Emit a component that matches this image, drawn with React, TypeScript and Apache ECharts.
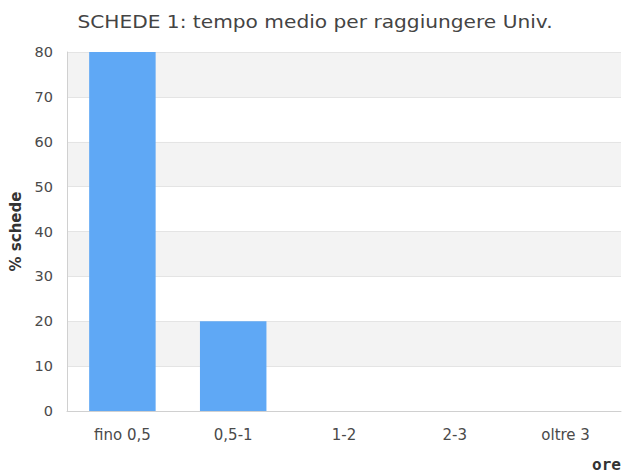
import React, { useEffect, useRef } from "react";
import * as echarts from "echarts";

const categories = ["fino 0,5", "0,5-1", "1-2", "2-3", "oltre 3"];
const values = [80, 20, 0, 0, 0];
const titleText = "SCHEDE 1: tempo medio per raggiungere Univ.";
const yName = "% schede";
const xName = "ore";

export default function App() {
  const ref = useRef<HTMLDivElement>(null);
  useEffect(() => {
    document.body.style.margin = "0";
    const chart = echarts.init(ref.current!, null, { renderer: "svg" });
    chart.setOption({
      animation: false,
      backgroundColor: "#ffffff",
      grid: { left: 67, right: 1, top: 52, bottom: 61 },
      xAxis: {
        type: "category",
        data: categories,
        axisLine: { show: true, lineStyle: { color: "#d0d0d0" } },
        axisTick: { show: false },
        axisLabel: { color: "#4a4a4a", fontSize: 15, fontFamily: "DejaVu Sans", margin: 16 },
      },
      yAxis: {
        type: "value",
        min: 0,
        max: 80,
        interval: 10,
        name: yName,
        nameLocation: "middle",
        nameGap: 43,
        nameTextStyle: { fontWeight: "bold", fontSize: 15, color: "#333", fontFamily: "DejaVu Sans" },
        axisLine: { show: true, lineStyle: { color: "#d0d0d0" } },
        axisTick: { show: false },
        axisLabel: { color: "#4a4a4a", fontSize: 14.5, fontFamily: "DejaVu Sans", margin: 14 },
        splitLine: { show: true, lineStyle: { color: "#e4e4e4", width: 1 } },
        splitArea: { show: true, areaStyle: { color: ["#ffffff", "#f3f3f3"] } },
      },
      graphic: [
        {
          type: "text",
          x: 315,
          y: 22,
          scaleX: 1.12,
          style: {
            text: titleText,
            fontSize: 18,
            fontFamily: "DejaVu Sans",
            fill: "#444",
            textAlign: "center",
            textVerticalAlign: "middle",
          },
        },
        {
          type: "text",
          x: 621,
          y: 464,
          style: {
            text: xName,
            fontWeight: "bold",
            fontSize: 16,
            fontFamily: "DejaVu Sans Mono",
            fill: "#333",
            textAlign: "right",
            textVerticalAlign: "middle",
          },
        },
      ],
      series: [
        {
          type: "bar",
          data: values,
          barWidth: "60%",
          itemStyle: { color: "#5fa8f5" },
        },
      ],
    });
    return () => chart.dispose();
  }, []);
  return <div ref={ref} style={{ width: 622, height: 472 }} />;
}
